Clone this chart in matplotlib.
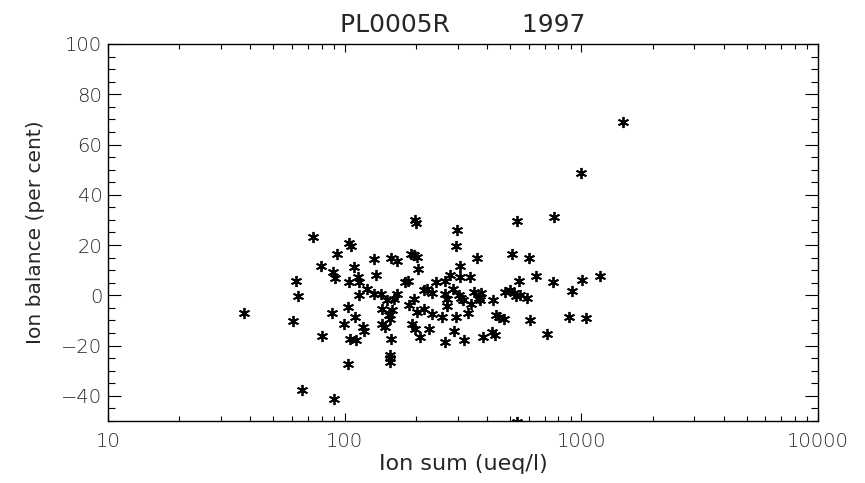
import matplotlib
matplotlib.use("Agg")
import matplotlib.pyplot as plt
from matplotlib import font_manager
from matplotlib.ticker import LogLocator, NullFormatter, FuncFormatter, MultipleLocator

# Ion sum (ueq/l) and ion balance (per cent) for each sample
ion_sum = [
    37.7, 60.2, 62.4, 63.2, 66.3, 73.8, 79.4, 80.4, 88.5, 89.7,
    91.4, 90.5, 93.2, 99.8, 103.5, 104.2, 104.5, 106.2, 103.5, 105.5,
    112.2, 109.0, 111.1, 113.3, 114.6, 119.4, 120.6, 124.1, 115.2, 132.9,
    136.3, 133.3, 142.7, 143.7, 158.4, 153.2, 155.8, 143.7, 148.3, 150.8,
    161.9, 156.2, 155.8, 155.8, 155.8, 157.3, 166.7, 166.7, 179.1, 184.4,
    190.5, 195.4, 202.0, 198.7, 200.6, 204.6, 187.9, 195.4, 192.1, 198.7,
    202.0, 208.6, 215.4, 222.6, 215.4, 227.7, 233.7, 233.7, 242.6, 264.8,
    258.5, 264.2, 266.0, 270.5, 270.5, 279.3, 286.7, 290.4, 294.1, 298.1,
    296.1, 302.8, 309.9, 305.8, 305.8, 316.1, 317.9, 330.5, 339.3, 341.7,
    350.4, 362.2, 368.0, 371.5, 377.7, 382.5, 419.4, 433.1, 422.6, 437.3,
    447.2, 472.6, 477.2, 497.6, 509.3, 519.9, 531.2, 552.3, 534.8, 543.3,
    587.2, 598.8, 607.0, 645.3, 713.5, 759.4, 763.9, 883.8, 913.5, 993.2,
    1007.0, 1047.0, 1195.0, 1505.0, 536.4,
]
ion_balance = [
    -7.0, -10.4, 5.6, -0.1, -37.8, 23.2, 11.6, -16.2, -7.1, 9.3,
    6.7, -41.2, 16.6, -11.6, -4.5, 5.3, 20.8, 19.8, -27.3, -17.3,
    -17.7, 11.3, -8.6, 7.3, 5.3, -12.5, -14.3, 2.7, 0.0, 14.6,
    8.0, 0.4, 0.7, -5.3, -6.0, -8.0, -9.3, -11.3, -12.6, -2.0,
    -1.3, -17.5, -23.9, -25.1, -26.5, 14.9, 13.7, 0.4, 5.3, 5.6,
    16.3, 16.1, 15.3, 30.1, 28.7, 10.5, -4.0, -1.3, -11.3, -13.3,
    -6.7, -16.6, 2.0, 2.7, -5.3, -13.5, 0.9, -7.3, 5.3, 5.7,
    -8.6, -18.6, 0.4, -1.6, -4.4, 8.0, 2.7, -14.3, 19.6, 25.9,
    -8.6, 0.0, -0.9, 11.6, 7.3, -2.0, -17.9, -6.9, 7.1, -3.3,
    1.2, 14.9, -0.9, -2.0, 0.9, -16.6, -14.6, -15.9, -1.7, -8.0,
    -8.6, -9.4, 1.3, 2.0, 16.6, 0.8, -0.4, 0.0, 29.5, 5.7,
    -0.9, 14.9, -9.7, 7.8, -15.5, 5.3, 31.0, -8.6, 1.6, 48.5,
    6.0, -9.0, 7.6, 68.9, -50.5,
]

x_limits = (10, 10000)
y_limits = (-50, 100)
title_text = "PL0005R         1997"
x_label = "Ion sum (ueq/l)"
y_label = "Ion balance (per cent)"

# prefer a thin face of a wide sans family for the annotation text
font_family, font_weight = "DejaVu Sans", "normal"
for fam, wt, tag in [("DejaVu Sans", 200, "extralight"),
                     ("Open Sans", "light", "light"),
                     ("Lato", "light", "light")]:
    try:
        path = font_manager.findfont(
            font_manager.FontProperties(family=fam, weight=wt),
            fallback_to_default=False)
        if tag in path.lower():
            font_family, font_weight = fam, wt
            break
    except Exception:
        pass

plt.rcParams["font.family"] = [font_family, "DejaVu Sans"]
plt.rcParams["font.weight"] = font_weight
text_color = "#262626"

fig = plt.figure(figsize=(8.65, 4.83), dpi=100)
ax = fig.add_axes([108 / 865, 1 - 421 / 483, 710 / 865, 377 / 483])

ax.plot(ion_sum, ion_balance, linestyle="none", marker=(6, 2, 0),
        markersize=8, markeredgewidth=1.3, color="black", clip_on=True)

ax.set_xscale("log")
ax.set_xlim(*x_limits)
ax.set_ylim(*y_limits)

ax.xaxis.set_major_locator(LogLocator(base=10, numticks=10))
ax.xaxis.set_minor_locator(LogLocator(base=10, subs=range(2, 10), numticks=20))
ax.xaxis.set_major_formatter(FuncFormatter(lambda v, p: f"{int(round(v))}"))
ax.xaxis.set_minor_formatter(NullFormatter())
ax.yaxis.set_major_locator(MultipleLocator(20))
ax.yaxis.set_minor_locator(MultipleLocator(5))
ax.yaxis.set_major_formatter(FuncFormatter(lambda v, p: f"{int(v)}".replace("-", "\u2212")))

ax.tick_params(axis="x", which="major", direction="in", length=6, width=0.8,
               top=True, bottom=True, labelsize=14, pad=8, colors="black",
               labelcolor=text_color)
ax.tick_params(axis="x", which="minor", direction="in", length=3.5, width=0.8,
               top=True, bottom=True)
ax.tick_params(axis="y", which="major", direction="in", length=9.5, width=0.8,
               left=True, right=True, labelsize=14, pad=4, colors="black",
               labelcolor=text_color)
ax.tick_params(axis="y", which="minor", direction="in", length=5, width=0.8,
               left=True, right=True)

for spine in ax.spines.values():
    spine.set_linewidth(1.0)
    spine.set_color("black")

ax.set_title(title_text, fontsize=18, color=text_color, pad=9)
ax.set_xlabel(x_label, fontsize=16, color=text_color, labelpad=2)
ax.set_ylabel(y_label, fontsize=14.5, color=text_color, labelpad=12)

fig.savefig("out.png", dpi=100, facecolor="white")
